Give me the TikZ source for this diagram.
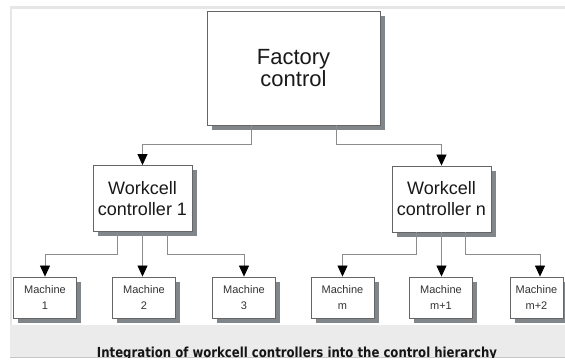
\documentclass[tikz,border=0pt]{standalone}
\usepackage{fontspec}
\setmainfont{Liberation Sans}
\newfontfamily\capfont{DejaVu Sans}
\usetikzlibrary{arrows.meta,shadows}
\definecolor{framegray}{HTML}{E6E6E6}
\definecolor{bandgray}{HTML}{EBEBEB}
\definecolor{linegray}{HTML}{8C8C8C}
\definecolor{boxgray}{HTML}{666666}
\definecolor{shadegray}{HTML}{80868A}
\definecolor{labelgray}{HTML}{333333}
\tikzset{
  unitbox/.style={draw=boxgray, line width=0.9pt, fill=white, inner sep=0pt, align=center,
    drop shadow={shadow xshift=4.5pt, shadow yshift=-4.5pt, fill=shadegray, opacity=1}},
  topbox/.style={unitbox, minimum width=173pt, minimum height=114pt,
    font=\fontsize{22}{22}\selectfont, text=black!90},
  cellbox/.style={unitbox, minimum width=99pt, minimum height=66pt,
    font=\fontsize{18}{21}\selectfont, text=black!90},
  machbox/.style={unitbox, minimum width=63pt, minimum height=41pt,
    font=\fontsize{11}{16}\selectfont, text=labelgray},
  conn/.style={draw=linegray, line width=0.8pt,
    -{Triangle[width=10pt,length=11pt,fill=black,color=black]}},
}
\begin{document}
\begin{tikzpicture}[x=1pt,y=-1pt]
\useasboundingbox (0,0) rectangle (565,360);
% page frame and caption band
\fill[white] (0,0) rectangle (565,360);
\fill[framegray] (10,6) rectangle (565,9);
\fill[framegray] (10,6) rectangle (12,325);
\fill[bandgray] (10,325) rectangle (565,357);
\draw[color=black!22, line width=0.8pt] (10,357.5) -- (565,357.5);
\begin{scope}
  \clip (10,325) rectangle (565,357.2);
  \node[anchor=base, inner sep=0pt, text=black!92] (cap) at (297,357)
    {\resizebox{400pt}{10.5pt}{\capfont\bfseries Integration of workcell controllers into the control hierarchy}};
\end{scope}
% hierarchy boxes
\node[topbox] (f) at (293.5,68) {Factory\\control};
\node[cellbox] (w1) at (142.5,198.5) {Workcell\\controller 1};
\node[cellbox] (wn) at (441.5,199) {Workcell\\controller n};
\node[machbox] (m1) at (45,297.5) {Machine\\1};
\node[machbox] (m2) at (144,297.5) {Machine\\2};
\node[machbox] (m3) at (244,297.5) {Machine\\3};
\node[machbox] (mm) at (342.5,297.5) {Machine\\m};
\node[machbox] (mm1) at (441,297.5) {Machine\\m+1};
\node[machbox, minimum width=53pt] (mm2) at (536.5,297.5) {Machine\\m+2};
% connectors
\draw[conn] ([xshift=-42.5pt]f.south) -- ++(0,19) -| (w1.north);
\draw[conn] ([xshift=42.5pt]f.south) -- ++(0,19) -| (wn.north);
\draw[conn] ([xshift=-25pt]w1.south) -- ++(0,22) -| (m1.north);
\draw[conn] (w1.south) -- (w1.south |- m2.north);
\draw[conn] ([xshift=25pt]w1.south) -- ++(0,22) -| (m3.north);
\draw[conn] ([xshift=-25pt]wn.south) -- ++(0,22) -| (mm.north);
\draw[conn] (wn.south) -- (wn.south |- mm1.north);
\draw[conn] ([xshift=24pt]wn.south) -- ++(0,22) -| ([xshift=3.5pt]mm2.north);
\end{tikzpicture}
\end{document}
